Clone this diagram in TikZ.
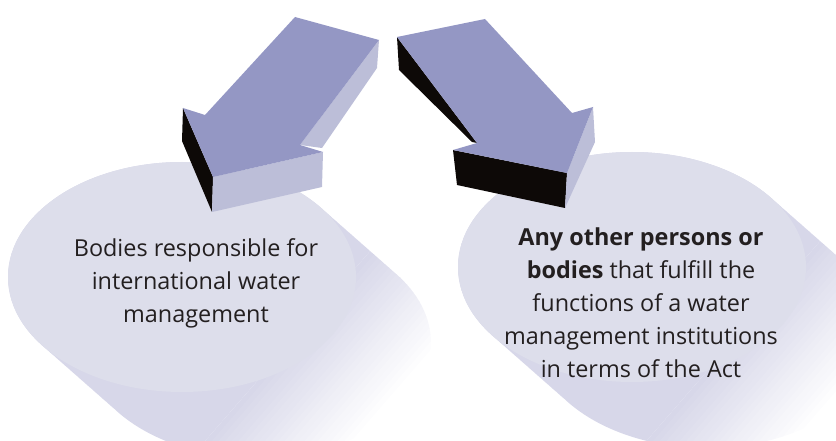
\documentclass[tikz,border=0pt]{standalone}
\usepackage{fontspec}
\setmainfont{Open Sans}
\usetikzlibrary{positioning}
\definecolor{blobface}{RGB}{221,222,235}
\definecolor{blobshade}{RGB}{215,215,233}
\definecolor{arrowtop}{RGB}{148,151,196}
\definecolor{arrowside}{RGB}{188,190,216}
\definecolor{arrowdark}{RGB}{13,9,7}
\definecolor{textgrey}{RGB}{35,31,32}
\tikzset{
  blobtext/.style={align=center, text=textgrey, font=\fontsize{23.4}{33}\selectfont},
  topface/.style={fill=arrowtop},
  lightface/.style={fill=arrowside},
  darkface/.style={fill=arrowdark},
  blobshape/.style={x radius=174, y radius=115},
}

\begin{document}
\begin{tikzpicture}[x=1pt, y=-1pt]
  \useasboundingbox (0,0) rectangle (836,441);
  % blobs, each with a shadow smeared to the lower right
  \foreach \cx/\cy in {182/277, 632/267}{
    \begin{scope}
      \clip \foreach \k in {0,...,10} {(\cx+7.5*\k,\cy+6.6*\k) ellipse [blobshape]};
      \begin{scope}[shift={(\cx,\cy)}, rotate=-41]
        \fill[blobshade] (-200,-300) rectangle (125,300);
        \foreach \s in {0,...,21}{
          \pgfmathtruncatemacro\mix{100-4.5*\s}
          \fill[blobshade!\mix!white] (125+5*\s,-300) rectangle (130.5+5*\s,300);
        }
      \end{scope}
    \end{scope}
    \fill[blobface] (\cx,\cy) ellipse [blobshape];
  }
  % left arrow
  \fill[darkface] (183,108) -- (213,177) -- (212,212) -- (182,141) -- cycle;
  \fill[lightface] (379,40) -- (377,68) -- (322,148) -- (300,145) -- cycle;
  \fill[lightface] (213,177) -- (323,152) -- (322,187) -- (212,212) -- cycle;
  \fill[topface] (295,17) -- (379,40) -- (300,145) -- (323,152) -- (213,177)
    -- (183,108) -- (205,115) -- cycle;
  % right arrow
  \fill[darkface] (397,37) -- (477,143) -- (472,142) -- (399,70) -- cycle;
  \fill[darkface] (453,150) -- (567,173) -- (565,208) -- (457,185) -- cycle;
  \fill[lightface] (567,173) -- (593,107) -- (595,142) -- (565,208) -- cycle;
  \fill[topface] (397,37) -- (485,19) -- (572,113) -- (593,107) -- (567,173)
    -- (453,150) -- (477,143) -- cycle;
  % texts
  \node[blobtext] (leftbody) at (196,283)
    {Bodies responsible for\\international water\\management};
  \node[blobtext] (rightbody) at (641,303)
    {\textbf{Any other persons or}\\\textbf{bodies} that fulfill the\\functions of a water\\management institutions\\in terms of the Act};
\end{tikzpicture}
\end{document}
